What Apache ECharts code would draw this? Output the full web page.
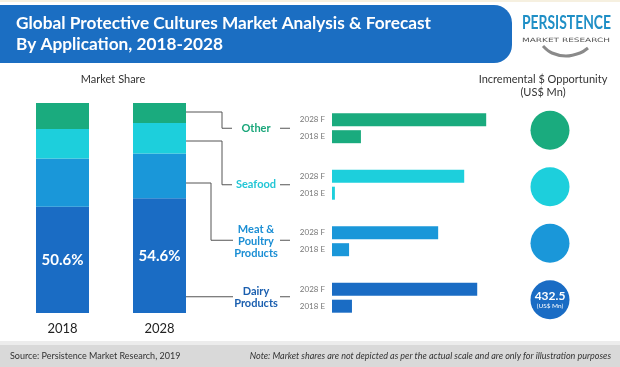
<!DOCTYPE html>
<html><head><meta charset="utf-8">
<script src="https://cdn.jsdelivr.net/npm/echarts@6/dist/echarts.min.js"></script>
<style>html,body{margin:0;padding:0;background:#fff}#c{width:620px;height:367px}</style>
</head><body><div id="c"></div>
<script>
// ---- data ----
const years = ['2018', '2028'];
const applications = ['Other', 'Seafood', 'Meat & Poultry Products', 'Dairy Products'];
const shareDairy = [50.6, 54.6];
const shareMeat = [23.0, 21.4];
const shareSeafood = [14.0, 14.5];
const shareOther = [12.4, 9.5];
const value2028F = [533, 457, 367, 502];
const value2018E = [100, 10, 59, 69];
const incremental = [null, null, null, 432.5];
const barSeriesNames = ['2028 F', '2018 E'];

// ---- styles ----
const FONT = 'Lato, "Open Sans", sans-serif';
const appColors = ['#1aab7e', '#1dcfdc', '#1a97d9', '#1a6cc4'];
const labelColors = ['#1aa67a', '#22c6d6', '#1a8ed4', '#1b5faf'];
const labelLines = [['Other'], ['Seafood'], ['Meat &', 'Poultry', 'Products'], ['Dairy', 'Products']];

const chart = echarts.init(document.getElementById('c'), null, {renderer: 'canvas'});

const richLabels = {};
labelColors.forEach((c, i) => {
  richLabels['a' + i] = {color: c, fontFamily: FONT, fontWeight: 'bold', fontSize: 11, lineHeight: 12, align: 'center'};
});

function stackSeries(name, data, color, showLabel) {
  return {
    name, type: 'bar', stack: 'share', xAxisIndex: 0, yAxisIndex: 0,
    data, barWidth: 53, itemStyle: {color},
    label: showLabel ? {show: true, position: 'inside', formatter: p => p.value + '%', color: '#fff', fontFamily: FONT, fontWeight: 'bold', fontSize: 15} : {show: false},
    silent: true
  };
}

const option = {
  animation: false,
  textStyle: {fontFamily: FONT},
  grid: [
    {left: 14, top: 103, width: 194, height: 210},
    {left: 332, top: 100, width: 162, height: 226},
    {left: 530, top: 102, width: 40, height: 226}
  ],
  xAxis: [
    {gridIndex: 0, type: 'category', data: years, axisLine: {show: false}, axisTick: {show: false},
     axisLabel: {margin: 9, fontSize: 13, color: '#222', fontFamily: FONT}},
    {gridIndex: 1, type: 'value', min: 0, max: 560, show: false},
    {gridIndex: 2, type: 'category', data: ['opp'], show: false}
  ],
  yAxis: [
    {gridIndex: 0, type: 'value', min: 0, max: 100, show: false},
    {gridIndex: 1, type: 'category', data: applications, inverse: true,
     axisLine: {show: false}, axisTick: {show: false}, splitLine: {show: false},
     axisLabel: {margin: 76, align: 'center',
       formatter: (v, i) => labelLines[i].map(l => '{a' + i + '|' + l + '}').join('\n'),
       rich: richLabels}},
    {gridIndex: 2, type: 'category', data: applications, inverse: true, show: false}
  ],
  series: [
    stackSeries('Dairy Products', shareDairy, appColors[3], true),
    stackSeries('Meat & Poultry Products', shareMeat, appColors[2], false),
    stackSeries('Seafood', shareSeafood, appColors[1], false),
    stackSeries('Other', shareOther, appColors[0], false),
    {
      name: barSeriesNames[0], type: 'bar', xAxisIndex: 1, yAxisIndex: 1,
      barWidth: 13, barGap: '30%',
      data: value2028F.map((v, i) => ({value: v, itemStyle: {color: appColors[i]}})),
      label: {show: true, position: 'left', distance: 7, formatter: barSeriesNames[0], color: '#777', fontSize: 8, fontFamily: FONT}
    },
    {
      name: barSeriesNames[1], type: 'bar', xAxisIndex: 1, yAxisIndex: 1,
      barWidth: 13, barGap: '30%',
      data: value2018E.map((v, i) => ({value: v, itemStyle: {color: appColors[i]}})),
      label: {show: true, position: 'left', distance: 7, formatter: barSeriesNames[1], color: '#777', fontSize: 8, fontFamily: FONT}
    },
    {
      name: 'Incremental', type: 'scatter', xAxisIndex: 2, yAxisIndex: 2,
      symbol: 'circle', symbolSize: 39,
      data: applications.map((a, i) => ({
        value: ['opp', a],
        itemStyle: {color: appColors[i], opacity: 1},
        label: incremental[i] == null ? {show: false} : {
          show: true, position: 'inside',
          formatter: '{v|' + incremental[i] + '}\n{u|(US$ Mn)}',
          rich: {
            v: {color: '#fff', fontWeight: 'bold', fontSize: 12, fontFamily: FONT, lineHeight: 12},
            u: {color: '#fff', fontSize: 6.5, fontFamily: FONT, lineHeight: 8}
          }
        }
      }))
    }
  ]
};
chart.setOption(option);

// ---- decorations (title banner, logo, connectors, footer) ----
const measureCtx = document.createElement('canvas').getContext('2d');
function textWidth(text, font) { measureCtx.font = font; return measureCtx.measureText(text).width; }

const catY = applications.map(a => chart.convertToPixel({yAxisIndex: 1}, a));
const lineStyle = {stroke: '#555', lineWidth: 1, fill: null};
const connectors = [
  [[186, 112], [222, 112], [222, catY[0]], [232, catY[0]]],
  [[186, 141], [222, 141], [222, catY[1]], [232, catY[1]]],
  [[186, 183], [211, 183], [211, catY[2] - 1], [233, catY[2] - 1]],
  [[186, catY[3] - 1], [233, catY[3] - 1]]
];
const titleFont = 'bold 17px ' + FONT;
const title1 = 'Global Protective Cultures Market Analysis & Forecast';
const titleScale = 415 / textWidth(title1, titleFont);
const logoFont = 'bold 18px ' + FONT;
const logoScale = 89 / textWidth('PERSISTENCE', logoFont);
const subFont = '6px "DejaVu Sans", sans-serif';
const subText = 'MARKET RESEARCH';
const subScale = 88 / textWidth(subText, subFont);

const graphics = [];
graphics.push({type: 'rect', shape: {x: 0, y: 0, width: 620, height: 2}, style: {fill: '#f6f0e0'}, silent: true});
// banner
graphics.push({type: 'rect', shape: {x: -20, y: 5, width: 532, height: 58, r: [0, 18, 18, 0]}, style: {fill: '#1b6ec2'}, silent: true});
graphics.push({type: 'text', x: 16, y: 13, scaleX: titleScale, style: {text: title1 + '\nBy Application, 2018-2028', fill: '#fff', font: titleFont, lineHeight: 21}, silent: true});
// logo
graphics.push({type: 'text', x: 522, y: 14, scaleX: logoScale, style: {text: 'PERSISTENCE', fill: '#1f8fc6', font: logoFont}, silent: true});
graphics.push({type: 'text', x: 522, y: 37, scaleX: subScale, style: {text: subText, fill: '#555', font: subFont}, silent: true});
graphics.push({type: 'polyline', shape: {points: [[543, 46], [552, 53], [566, 56], [580, 53], [588, 48]], smooth: 0.4}, style: {stroke: '#8a8a8a', lineWidth: 3, fill: null}, silent: true});
// section headings
graphics.push({type: 'text', x: 113, y: 79, style: {text: 'Market Share', fill: '#333', font: '11px ' + FONT, align: 'center', verticalAlign: 'middle'}, silent: true});
graphics.push({type: 'text', x: 543, y: 86, style: {text: 'Incremental $ Opportunity\n(US$ Mn)', fill: '#333', font: '11px ' + FONT, align: 'center', verticalAlign: 'middle', lineHeight: 13}, silent: true});
// connectors
connectors.forEach(pts => graphics.push({type: 'polyline', shape: {points: pts}, style: lineStyle, silent: true}));
// dashes after labels
catY.forEach((y, i) => graphics.push({type: 'line', shape: {x1: 280, y1: y + (i >= 2 ? -1 : 0), x2: 290, y2: y + (i >= 2 ? -1 : 0)}, style: {stroke: '#555', lineWidth: 1}, silent: true}));
// footer
graphics.push({type: 'rect', shape: {x: 0, y: 341, width: 620, height: 4}, style: {fill: '#ececec'}, silent: true});
graphics.push({type: 'rect', shape: {x: 0, y: 345, width: 620, height: 22}, style: {fill: '#d9d9d9'}, silent: true});
graphics.push({type: 'text', x: 10, y: 356, style: {text: 'Source: Persistence Market Research, 2019', fill: '#333', font: '9px ' + FONT, verticalAlign: 'middle'}, silent: true});
graphics.push({type: 'text', x: 611, y: 356, style: {text: 'Note: Market shares are not depicted as per the actual scale and are only for illustration purposes', fill: '#333', font: 'italic 9px ' + FONT, align: 'right', verticalAlign: 'middle'}, silent: true});
chart.setOption({graphic: {elements: graphics}});
</script>
</body></html>
